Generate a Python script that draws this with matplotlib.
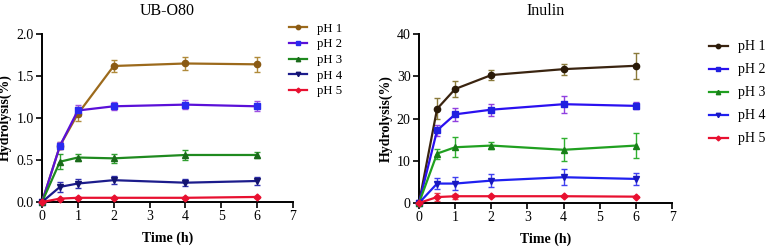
import matplotlib
matplotlib.use("Agg")
import matplotlib.pyplot as plt
from matplotlib.ticker import FormatStrFormatter

plt.rcParams['font.family'] = ['Liberation Serif', 'DejaVu Serif']

time_h = [0, 0.5, 1, 2, 4, 6]
labels = ['pH 1', 'pH 2', 'pH 3', 'pH 4', 'pH 5']
markers = ['o', 's', '^', 'v', 'D']

# UB-O80 hydrolysis (%)
ub_mean = [
    [0, 0.67, 1.05, 1.62, 1.65, 1.64],
    [0, 0.67, 1.09, 1.14, 1.16, 1.14],
    [0, 0.48, 0.53, 0.52, 0.56, 0.56],
    [0, 0.18, 0.22, 0.26, 0.23, 0.25],
    [0, 0.04, 0.05, 0.05, 0.05, 0.06],
]
ub_err = [
    [0, 0.04, 0.08, 0.07, 0.08, 0.09],
    [0, 0.04, 0.07, 0.05, 0.05, 0.06],
    [0, 0.09, 0.04, 0.05, 0.06, 0.03],
    [0, 0.06, 0.05, 0.05, 0.04, 0.05],
    [0, 0.01, 0.01, 0.01, 0.01, 0.01],
]

# Inulin hydrolysis (%)
in_mean = [
    [0, 22.3, 27.0, 30.3, 31.7, 32.5],
    [0, 17.2, 21.0, 22.1, 23.4, 23.0],
    [0, 11.7, 13.2, 13.6, 12.6, 13.6],
    [0, 4.6, 4.6, 5.3, 6.1, 5.7],
    [0, 1.4, 1.6, 1.6, 1.6, 1.5],
]
in_err = [
    [0, 2.5, 1.8, 1.1, 1.3, 3.1],
    [0, 1.3, 1.6, 1.4, 2.0, 0.8],
    [0, 1.2, 2.4, 0.9, 2.7, 3.0],
    [0, 1.2, 1.6, 1.6, 1.9, 1.4],
    [0, 1.0, 0.6, 0.2, 0.2, 0.2],
]

# (line, marker, errorbar) colours per series
ub_colors = [
    ('#9c6a1c', '#8a5a14', '#b08a3a'),
    ('#5a10d8', '#2a2af0', '#a050e0'),
    ('#1f8a1f', '#1a6a1a', '#30a030'),
    ('#1c1c8c', '#141470', '#3030b0'),
    ('#e81030', '#e81030', '#e84050'),
]
in_colors = [
    ('#3a2410', '#2a1a08', '#8a7a3a'),
    ('#2a10f0', '#2020e0', '#9040e0'),
    ('#20a020', '#188018', '#30b030'),
    ('#2020f0', '#1818c0', '#4040f0'),
    ('#e81030', '#e81030', '#e84050'),
]


def draw_panel(ax, means, errs, colors, title, ylim, yticks, yfmt):
    handles = []
    for i in range(len(labels)):
        lc, mc, ec = colors[i]
        ax.errorbar(time_h, means[i], yerr=errs[i], fmt='none', ecolor=ec,
                    elinewidth=1.0, capsize=2.5, capthick=1.0, clip_on=False, zorder=2)
        ms = 3.5 if markers[i] == 'D' else 4.5
        line, = ax.plot(time_h, means[i], color=lc, lw=1.6, marker=markers[i],
                        ms=ms, mfc=mc, mec=mc, clip_on=False, zorder=3, label=labels[i])
        handles.append(line)
    ax.set_xlim(0, 7)
    ax.set_ylim(*ylim)
    ax.set_xticks(range(8))
    ax.set_yticks(yticks)
    ax.yaxis.set_major_formatter(FormatStrFormatter(yfmt))
    for s in ['top', 'right']:
        ax.spines[s].set_visible(False)
    for s in ['left', 'bottom']:
        ax.spines[s].set_linewidth(1.4)
    ax.tick_params(direction='out', length=4, width=1.2, labelsize=10, pad=2)
    ax.set_title(title, fontsize=11.5, pad=14)
    ax.set_xlabel('Time (h)', fontsize=10, fontweight='bold', labelpad=6)
    ax.set_ylabel('Hydrolysis(%)', fontsize=10, fontweight='bold', labelpad=3)
    return handles


fig = plt.figure(figsize=(7.67, 2.48), dpi=100)
ax1 = fig.add_axes([0.0548, 0.1855, 0.327, 0.677])
ax2 = fig.add_axes([0.5463, 0.1815, 0.330, 0.681])

h1 = draw_panel(ax1, ub_mean, ub_err, ub_colors, 'UB-O80', (0, 2.0),
                [0, 0.5, 1.0, 1.5, 2.0], '%.1f')
h2 = draw_panel(ax2, in_mean, in_err, in_colors, 'Inulin', (0, 40),
                [0, 10, 20, 30, 40], '%d')

ax1.legend(handles=h1, loc='upper left', bbox_to_anchor=(0.948, 1.12),
           frameon=False, fontsize=9.2, handlelength=1.4, handletextpad=0.8,
           labelspacing=0.28, borderpad=0.2, markerscale=0.7)
ax2.legend(handles=h2, loc='upper left', bbox_to_anchor=(1.106, 1.02),
           frameon=False, fontsize=10, handlelength=1.4, handletextpad=0.7,
           labelspacing=0.72, borderpad=0.2, markerscale=0.7)

fig.savefig('out.png', dpi=100)
